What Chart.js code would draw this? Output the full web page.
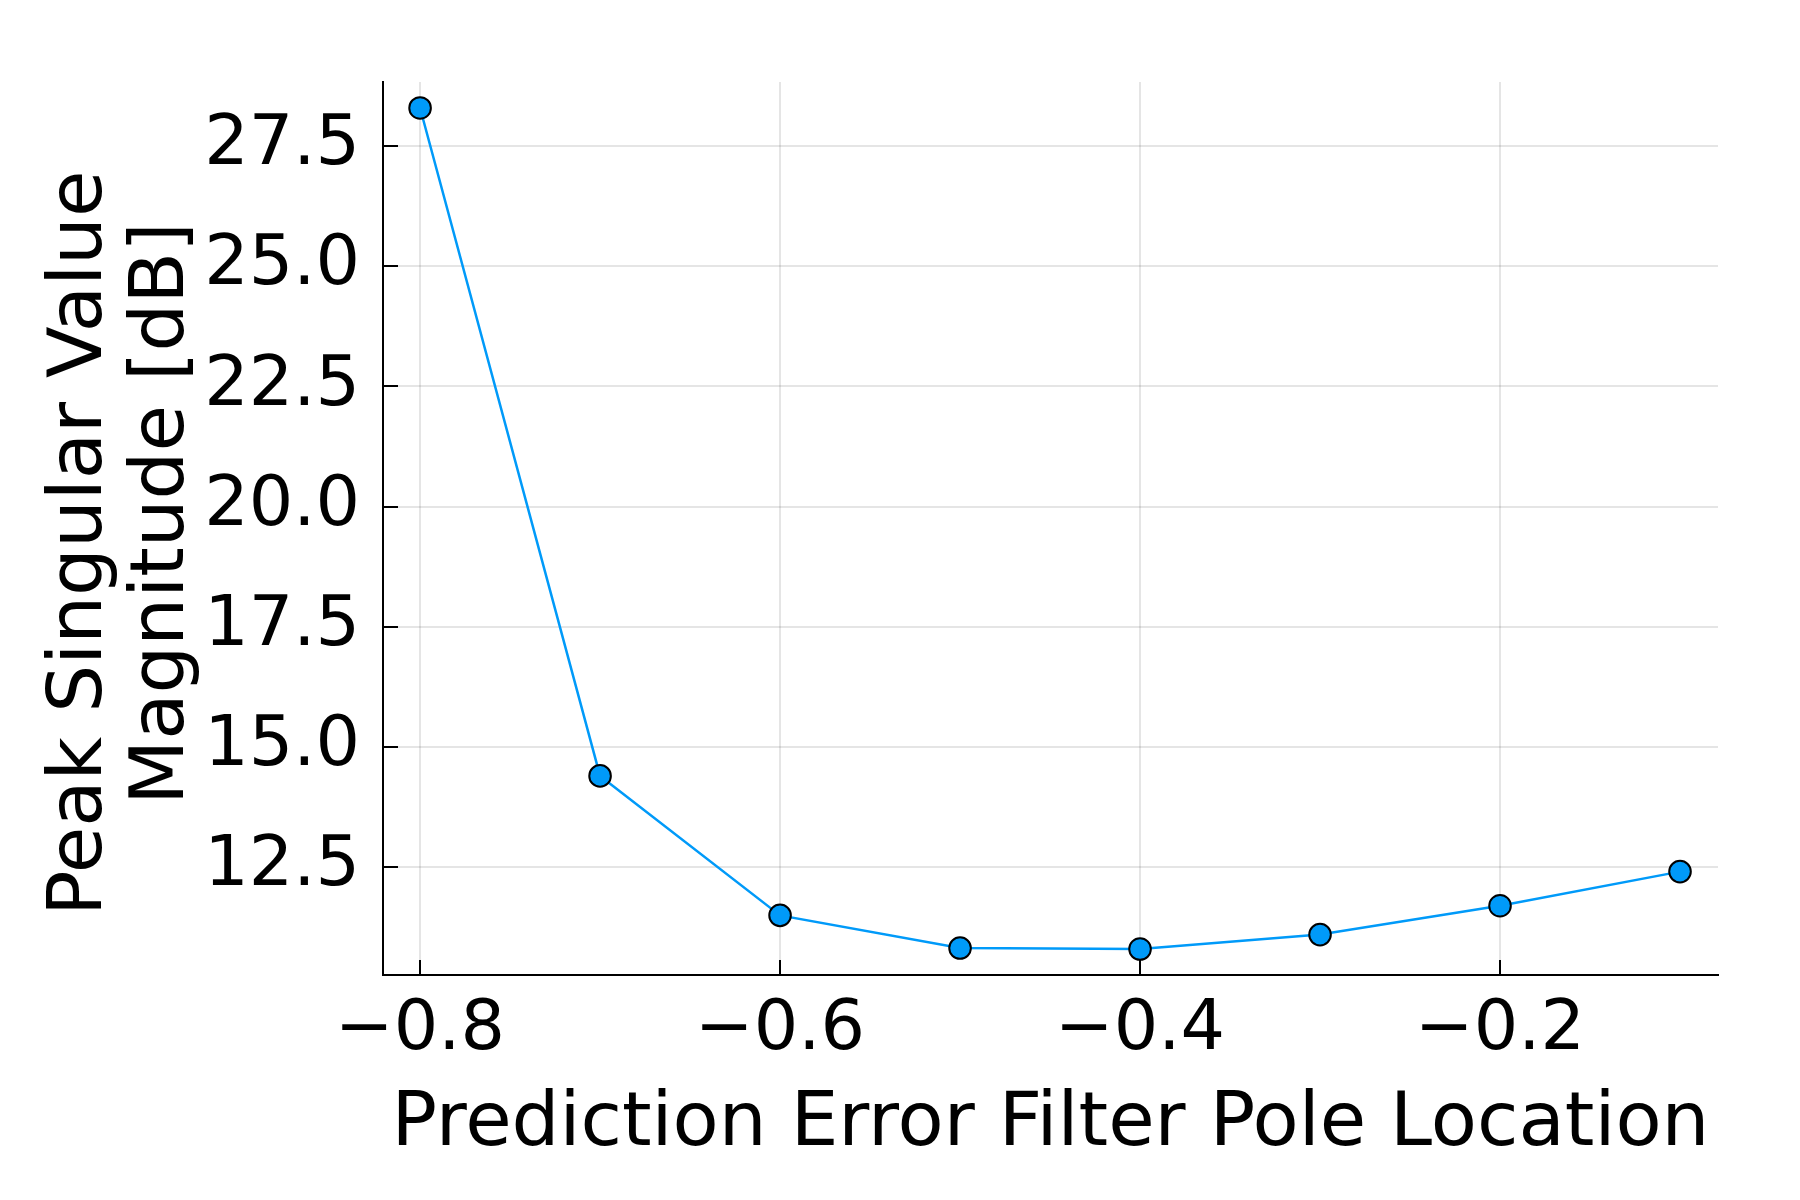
<!DOCTYPE html>
<html>
<head>
<meta charset="utf-8">
<script src="https://cdn.jsdelivr.net/npm/chart.js@4"></script>
<style>
  html, body { margin: 0; padding: 0; background: #ffffff; }
  #wrap { width: 1800px; height: 1200px; }
</style>
</head>
<body>
<div id="wrap"><canvas id="c" width="1800" height="1200"></canvas></div>
<script>
// ---- data ----
const poleLocations = [-0.8, -0.7, -0.6, -0.5, -0.4, -0.3, -0.2, -0.1];
const peakSingularDb = [28.29, 14.40, 11.50, 10.82, 10.80, 11.10, 11.70, 12.41];
const xTickValues = [-0.8, -0.6, -0.4, -0.2];
const xTickLabels = ['\u22120.8', '\u22120.6', '\u22120.4', '\u22120.2'];
const yTickValues = [12.5, 15.0, 17.5, 20.0, 22.5, 25.0, 27.5];
const yTickLabels = ['12.5', '15.0', '17.5', '20.0', '22.5', '25.0', '27.5'];
const xTitle = 'Prediction Error Filter Pole Location';
const yTitleLines = ['Peak Singular Value', 'Magnitude [dB]'];
const xRange = [-0.8206, -0.0789];
const yRange = [10.26, 28.83];

const FONT = '"DejaVu Sans", "Liberation Sans", sans-serif';
Chart.defaults.font.family = FONT;
Chart.defaults.color = '#000000';

const titlesAndTicks = {
  id: 'titlesAndTicks',
  beforeDatasetsDraw(chart) {
    const ctx = chart.ctx;
    const xs = chart.scales.x, ys = chart.scales.y;
    const a = chart.chartArea;
    ctx.save();
    ctx.strokeStyle = '#000000';
    ctx.lineWidth = 2;
    ctx.beginPath();
    xTickValues.forEach(v => {
      const px = Math.round(xs.getPixelForValue(v));
      ctx.moveTo(px, a.bottom);
      ctx.lineTo(px, a.bottom - 15);
    });
    yTickValues.forEach(v => {
      const py = Math.round(ys.getPixelForValue(v));
      ctx.moveTo(a.left, py);
      ctx.lineTo(a.left + 15, py);
    });
    ctx.stroke();
    ctx.restore();
  },
  afterDraw(chart) {
    const ctx = chart.ctx;
    const a = chart.chartArea;
    ctx.save();
    ctx.fillStyle = '#000000';
    ctx.font = '75.5px ' + FONT;
    ctx.textAlign = 'center';
    ctx.textBaseline = 'alphabetic';
    ctx.fillText(xTitle, (a.left + a.right) / 2, 1145);
    // rotated y title, two lines
    const baselines = [101, 183];
    const starts = [916, 805];
    yTitleLines.forEach((t, i) => {
      ctx.save();
      ctx.translate(baselines[i], starts[i]);
      ctx.rotate(-Math.PI / 2);
      ctx.textAlign = 'left';
      ctx.textBaseline = 'alphabetic';
      ctx.fillText(t, 0, 0);
      ctx.restore();
    });
    ctx.restore();
  }
};

new Chart(document.getElementById('c'), {
  type: 'line',
  data: {
    datasets: [{
      data: poleLocations.map((x, i) => ({ x: x, y: peakSingularDb[i] })),
      borderColor: '#009AF9',
      borderWidth: 2.5,
      backgroundColor: '#009AF9',
      pointBackgroundColor: '#009AF9',
      pointBorderColor: '#000000',
      pointBorderWidth: 2,
      pointRadius: 10.8,
      tension: 0,
      fill: false,
      clip: false
    }]
  },
  options: {
    responsive: false,
    animation: false,
    devicePixelRatio: 1,
    layout: { padding: { top: 82, right: 82, left: 0, bottom: 0 } },
    plugins: { legend: { display: false }, tooltip: { enabled: false }, title: { display: false } },
    scales: {
      x: {
        type: 'linear',
        min: xRange[0],
        max: xRange[1],
        afterBuildTicks: s => { s.ticks = xTickValues.map(v => ({ value: v })); },
        afterFit: s => { s.height = 225; },
        ticks: {
          font: { size: 70 },
          color: '#000000',
          padding: 14,
          maxRotation: 0,
          autoSkip: false,
          callback: (v, i) => xTickLabels[i]
        },
        grid: { color: 'rgba(0,0,0,0.1)', lineWidth: 2, drawTicks: false },
        border: { color: '#000000', width: 2 }
      },
      y: {
        type: 'linear',
        min: yRange[0],
        max: yRange[1],
        afterBuildTicks: s => { s.ticks = yTickValues.map(v => ({ value: v })); },
        afterFit: s => { s.width = 383; },
        ticks: {
          font: { size: 70 },
          color: '#000000',
          padding: 23,
          autoSkip: false,
          callback: (v, i) => yTickLabels[i]
        },
        grid: { color: 'rgba(0,0,0,0.1)', lineWidth: 2, drawTicks: false },
        border: { color: '#000000', width: 2 }
      }
    }
  },
  plugins: [titlesAndTicks]
});
</script>
</body>
</html>
